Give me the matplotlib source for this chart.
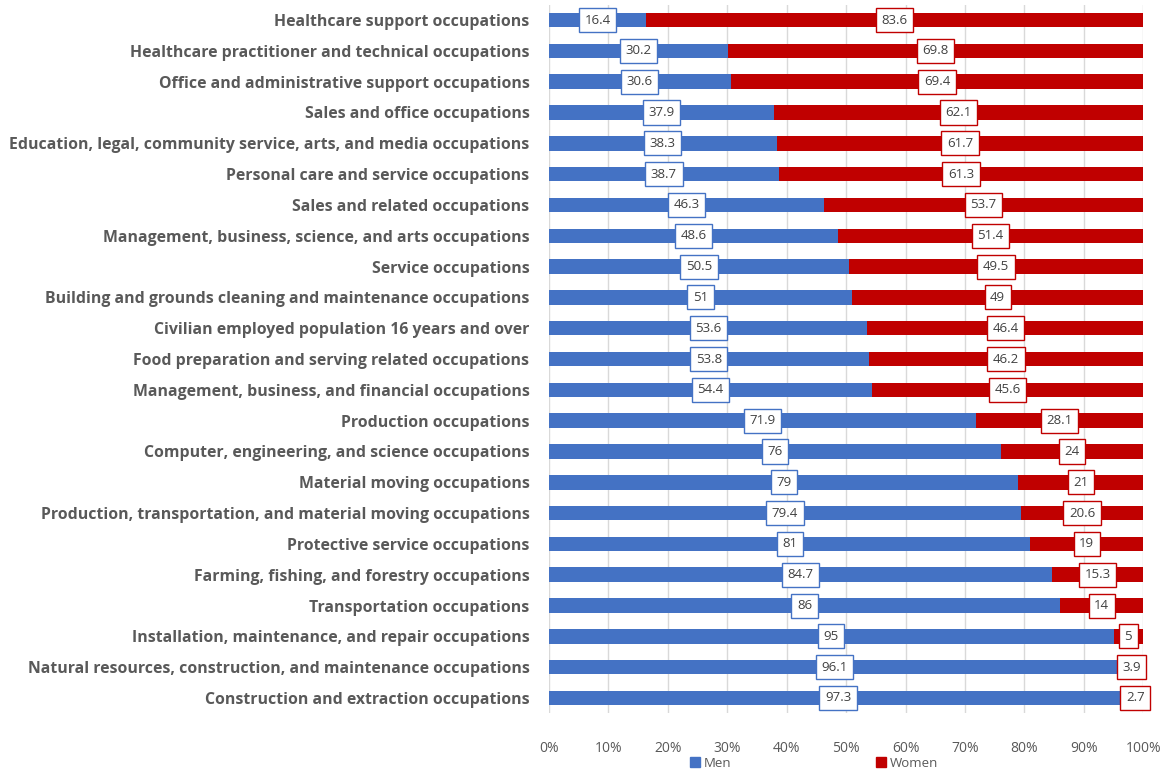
import matplotlib.pyplot as plt
from matplotlib.patches import Patch

# données (de haut en bas)
categories = [
    "Healthcare support occupations",
    "Healthcare practitioner and technical occupations",
    "Office and administrative support occupations",
    "Sales and office occupations",
    "Education, legal, community service, arts, and media occupations",
    "Personal care and service occupations",
    "Sales and related occupations",
    "Management, business, science, and arts occupations",
    "Service occupations",
    "Building and grounds cleaning and maintenance occupations",
    "Civilian employed population 16 years and over",
    "Food preparation and serving related occupations",
    "Management, business, and financial occupations",
    "Production occupations",
    "Computer, engineering, and science occupations",
    "Material moving occupations",
    "Production, transportation, and material moving occupations",
    "Protective service occupations",
    "Farming, fishing, and forestry occupations",
    "Transportation occupations",
    "Installation, maintenance, and repair occupations",
    "Natural resources, construction, and maintenance occupations",
    "Construction and extraction occupations",
]
men = [16.4, 30.2, 30.6, 37.9, 38.3, 38.7, 46.3, 48.6, 50.5, 51, 53.6, 53.8,
       54.4, 71.9, 76, 79, 79.4, 81, 84.7, 86, 95, 96.1, 97.3]
women = [83.6, 69.8, 69.4, 62.1, 61.7, 61.3, 53.7, 51.4, 49.5, 49, 46.4, 46.2,
         45.6, 28.1, 24, 21, 20.6, 19, 15.3, 14, 5, 3.9, 2.7]

BLUE = "#4472C4"
RED = "#C00000"
GREY = "#595959"

plt.rcParams["font.family"] = ["Open Sans", "DejaVu Sans"]

fig = plt.figure(figsize=(11.63, 7.7), dpi=100)
ax = fig.add_axes([0.472, 0.0735, 0.511, 0.9205])

y = list(range(len(categories)))
ax.barh(y, men, height=0.47, color=BLUE, zorder=2)
ax.barh(y, women, left=men, height=0.47, color=RED, zorder=2)

def fmt(v):
    return f"{v:g}"

for i in y:
    ax.text(men[i] / 2, i, fmt(men[i]), ha="center", va="center",
            fontsize=9.5, color="#404040", zorder=3,
            bbox=dict(boxstyle="square,pad=0.42", fc="white", ec=BLUE, lw=1))
    ax.text(men[i] + women[i] / 2, i, fmt(women[i]), ha="center", va="center",
            fontsize=9.5, color="#404040", zorder=3,
            bbox=dict(boxstyle="square,pad=0.42", fc="white", ec=RED, lw=1))

ax.set_ylim(len(categories) - 0.5, -0.5)
ax.set_xlim(0, 100)
ax.set_xticks(range(0, 101, 10))
ax.set_xticklabels([f"{t}%" for t in range(0, 101, 10)], fontsize=10, color=GREY)
ax.set_yticks(y)
ax.set_yticklabels(categories, fontsize=11.4, fontweight="bold", color=GREY)
ax.tick_params(axis="both", length=0)
ax.tick_params(axis="x", pad=20)
ax.tick_params(axis="y", pad=14)

ax.grid(axis="x", color="#D9D9D9", lw=1, zorder=0)
for s in ax.spines.values():
    s.set_visible(False)

handles = [Patch(color=BLUE, label="Men"), Patch(color=RED, label="Women")]
fig.legend(handles=handles, loc="center", bbox_to_anchor=(0.70, 0.009), ncol=2,
           frameon=False, fontsize=9.5, handlelength=0.7, handleheight=0.7,
           handletextpad=0.3, columnspacing=11, labelcolor=GREY)

fig.savefig("out.png", dpi=100)
